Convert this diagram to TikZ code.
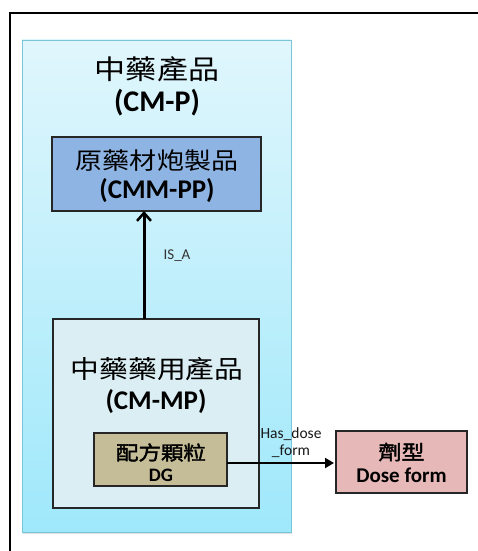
\documentclass[tikz,border=0pt]{standalone}
\usepackage{fontspec}
\setmainfont{Carlito}
\newfontfamily\cjk[FakeStretch=1.15]{Noto Sans CJK TC}
\newfontfamily\cjkb[FakeStretch=1.15,FakeBold=2]{Noto Sans CJK TC}
\usetikzlibrary{arrows.meta,shadows}

\definecolor{outerTop}{HTML}{E0F6FC}
\definecolor{outerBot}{HTML}{9FE8FB}
\definecolor{outerEdge}{HTML}{78C6DA}
\definecolor{ppFill}{HTML}{8EB4E3}
\definecolor{mpFill}{HTML}{DBEEF3}
\definecolor{dgFill}{HTML}{C4BD97}
\definecolor{dfFill}{HTML}{E6B9B8}
\definecolor{edge}{HTML}{262626}

\tikzset{
  box/.style={draw=edge, line width=1.3pt, inner sep=0pt, outer sep=0pt},
  lbl/.style={inner sep=0pt, text=black},
  zh/.style={lbl, font=\cjk\fontsize{#1}{#1}\selectfont},
  zhb/.style={lbl, font=\cjkb\fontsize{#1}{#1}\selectfont},
  en/.style={lbl, font=\bfseries\fontsize{#1}{#1}\selectfont},
  rel/.style={lbl, align=center},
}

\begin{document}
\begin{tikzpicture}[x=1pt,y=-1pt]
\useasboundingbox (0,0) rectangle (478,551);
\fill[white] (0,0) rectangle (478,551);

% page frame
\draw[line width=2pt, black] (10,560) -- (10,13) -- (490,13);

% outer container: CM-P
\node[draw=outerEdge, line width=0.8pt, top color=outerTop, bottom color=outerBot,
      minimum width=269pt, minimum height=492pt, inner sep=0pt,
      drop shadow={opacity=0.25, shadow xshift=1pt, shadow yshift=-2pt}]
      (cmp) at (156.5,286) {};
\node[zh=27] (cmpZh) at (157,69) {中藥產品};
\node[en=30] (cmpEn) at (157,103) {(CM-P)};

% CMM-PP
\node[box, fill=ppFill, minimum width=209pt, minimum height=74pt] (pp) at (156.5,174) {};
\node[zh=23.5] (ppZh) at (157,161) {原藥材炮製品};
\node[en=27] (ppEn) at (157,190.5) {(CMM-PP)};

% CM-MP
\node[box, fill=mpFill, minimum width=206pt, minimum height=189pt] (mp) at (156,413.5) {};
\node[zh=25] (mpZh) at (157,369) {中藥藥用產品};
\node[en=27] (mpEn) at (156,402) {(CM-MP)};

% DG
\node[box, fill=dgFill, minimum width=133pt, minimum height=53pt] (dg) at (160.5,459.5) {};
\node[zhb=19.5] (dgZh) at (161,452.5) {配方顆粒};
\node[en=19] (dgEn) at (161,475.5) {DG};

% Dose form
\node[box, fill=dfFill, minimum width=131pt, minimum height=62pt] (df) at (401.5,462) {};
\node[zhb=20] (dfZh) at (401.5,452) {劑型};
\node[en=21] (dfEn) at (401.5,475.5) {Dose form};

% relations
\coordinate (isaFrom) at (mp.north -| 144,0);
\coordinate (isaTo) at (pp.south -| 144,0);
\draw[line width=3pt, -{Straight Barb[length=8pt,width=14pt,line width=2.5pt]}] (isaFrom) -- (isaTo);
\node[rel, text=black!80, font=\fontsize{15}{17}\selectfont] (isaLbl) at (177,256) {IS\_A};

\coordinate (hdFrom) at (dg.east |- 0,463);
\coordinate (hdTo) at (df.west |- 0,463);
\draw[line width=2pt, -{Triangle[length=9pt,width=10pt]}, shorten >=2pt] (hdFrom) -- (hdTo);
\node[rel, text=black!90, font=\fontsize{15.5}{17}\selectfont] (hdLbl) at (291,443) {Has\_dose\\\_form};
\end{tikzpicture}
\end{document}
